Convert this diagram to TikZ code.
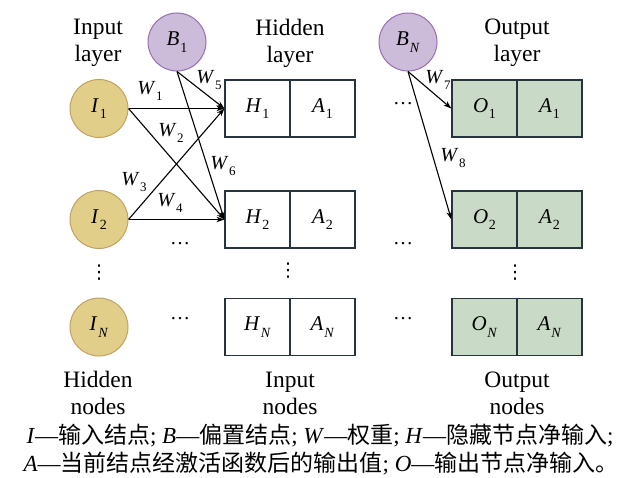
\documentclass[tikz,border=0pt]{standalone}
\usepackage{fontspec}
\setmainfont{Liberation Serif}
\newfontfamily\cjk{Noto Sans CJK SC}
\newfontfamily\symfont{DejaVu Sans}
\usetikzlibrary{arrows.meta}

\definecolor{inputfill}{RGB}{224,206,137}
\definecolor{inputedge}{RGB}{196,160,100}
\definecolor{biasfill}{RGB}{205,187,218}
\definecolor{biasedge}{RGB}{150,110,180}
\definecolor{outfill}{RGB}{201,219,198}
\definecolor{boxedge}{RGB}{38,52,62}

% italic symbol with a small upright/italic subscript
\newcommand\symsub[2]{\textit{#1}\kern0.8pt\raisebox{-0.32em}{\fontsize{14}{14}\selectfont #2}}
\newcommand\wsub[2]{\textit{#1}\kern0.6pt\raisebox{-0.32em}{\fontsize{13}{13}\selectfont #2}}

\tikzset{
  neuron/.style={circle, draw=inputedge, fill=inputfill, line width=1pt,
    minimum size=58pt, inner sep=0pt, font=\fontsize{21}{21}\selectfont},
  bias/.style={circle, draw=biasedge, fill=biasfill, line width=1pt,
    minimum size=58pt, inner sep=0pt, font=\fontsize{21}{21}\selectfont},
  cell/.style={rectangle, draw=boxedge, line width=1.3pt, minimum width=65pt,
    minimum height=57pt, inner sep=0pt, font=\fontsize{21}{21}\selectfont},
  hcell/.style={cell, fill=white},
  ocell/.style={cell, fill=outfill},
  title/.style={align=center, font=\fontsize{23.5}{27}\selectfont, inner sep=0pt},
  wlabel/.style={font=\fontsize{20}{20}\selectfont, inner sep=0pt},
  dots/.style={font=\fontsize{20}{20}\selectfont, inner sep=0pt},
  vdotsstyle/.style={font=\symfont\fontsize{19}{19}\selectfont, inner sep=0pt},
  caption/.style={inner sep=0pt, font=\fontsize{23}{23}\selectfont},
  link/.style={line width=1.1pt, -{Stealth[length=8pt,width=5.5pt]}},
}

\begin{document}
\begin{tikzpicture}[x=1pt,y=-1pt]
\useasboundingbox (0,0) rectangle (620,478);

% layer headings
\node[title] (tin)  at (98,43)  {Input\\layer};
\node[title] (thid) at (290,43) {Hidden\\layer};
\node[title] (tout) at (517,43) {Output\\layer};

% input neurons
\node[neuron] (i1) at (99,108.5) {\symsub{I}{1}};
\node[neuron] (i2) at (99,219.5) {\symsub{I}{2}};
\node[neuron] (in) at (99,327)   {\symsub{I}{\textit{N}}};

% bias neurons
\node[bias] (b1) at (177,42) {\symsub{B}{1}};
\node[bias] (bn) at (408,42) {\symsub{B}{\textit{N}}};

% hidden layer cells
\node[hcell] (h1) at (257.5,108.5) {\symsub{H}{1}};
\node[hcell] (ha1) at (322.5,108.5) {\symsub{A}{1}};
\node[hcell] (h2) at (257.5,219.5) {\symsub{H}{2}};
\node[hcell] (ha2) at (322.5,219.5) {\symsub{A}{2}};
\node[hcell] (hn) at (257.5,327) {\symsub{H}{\textit{N}}};
\node[hcell] (han) at (322.5,327) {\symsub{A}{\textit{N}}};

% output layer cells
\node[ocell] (o1) at (484.5,108.5) {\symsub{O}{1}};
\node[ocell] (oa1) at (549.5,108.5) {\symsub{A}{1}};
\node[ocell] (o2) at (484.5,219.5) {\symsub{O}{2}};
\node[ocell] (oa2) at (549.5,219.5) {\symsub{A}{2}};
\node[ocell] (on) at (484.5,327) {\symsub{O}{\textit{N}}};
\node[ocell] (oan) at (549.5,327) {\symsub{A}{\textit{N}}};

% weighted connections
\draw[link] (i1.east) -- (h1.west);
\draw[link] (i1.east) -- (h2.west);
\draw[link] (i2.east) -- (h1.west);
\draw[link] (i2.east) -- (h2.west);
\draw[link] (b1.south) -- (h1.west);
\draw[link] (b1.south) -- (h2.west);
\draw[link] (bn.south) -- (o1.west);
\draw[link] (bn.south) -- (o2.west);

% weight labels
\node[wlabel] (w1) at (150,91)  {\wsub{W}{1}};
\node[wlabel] (w2) at (171,133) {\wsub{W}{2}};
\node[wlabel] (w3) at (134,182) {\wsub{W}{3}};
\node[wlabel] (w4) at (170,203) {\wsub{W}{4}};
\node[wlabel] (w5) at (209,80)  {\wsub{W}{5}};
\node[wlabel] (w6) at (223,166) {\wsub{W}{6}};
\node[wlabel] (w7) at (438,80)  {\wsub{W}{7}};
\node[wlabel] (w8) at (453,158) {\wsub{W}{8}};

% ellipses
\node[dots] (e1) at (403,104) {\ldots};
\node[dots] (e2) at (180,244) {\ldots};
\node[dots] (e3) at (403,244) {\ldots};
\node[dots] (e4) at (180,319) {\ldots};
\node[dots] (e5) at (403,319) {\ldots};
\node[vdotsstyle] (v1) at (99,273)  {⋮};
\node[vdotsstyle] (v2) at (288,271) {⋮};
\node[vdotsstyle] (v3) at (515,273) {⋮};

% bottom headings
\node[title] (bin)  at (98,393)  {Hidden\\nodes};
\node[title] (bhid) at (290,393) {Input\\nodes};
\node[title] (bout) at (517,393) {Output\\nodes};

% legend
\node[caption] (cap1) at (320,436)
  {\textit{I}—{\cjk 输入结点}; \textit{B}—{\cjk 偏置结点}; \textit{W}—{\cjk 权重}; \textit{H}—{\cjk 隐藏节点净输入};};
\node[caption] (cap2) at (321,464)
  {\textit{A}—{\cjk 当前结点经激活函数后的输出值}; \textit{O}—{\cjk 输出节点净输入。}};
\end{tikzpicture}
\end{document}
